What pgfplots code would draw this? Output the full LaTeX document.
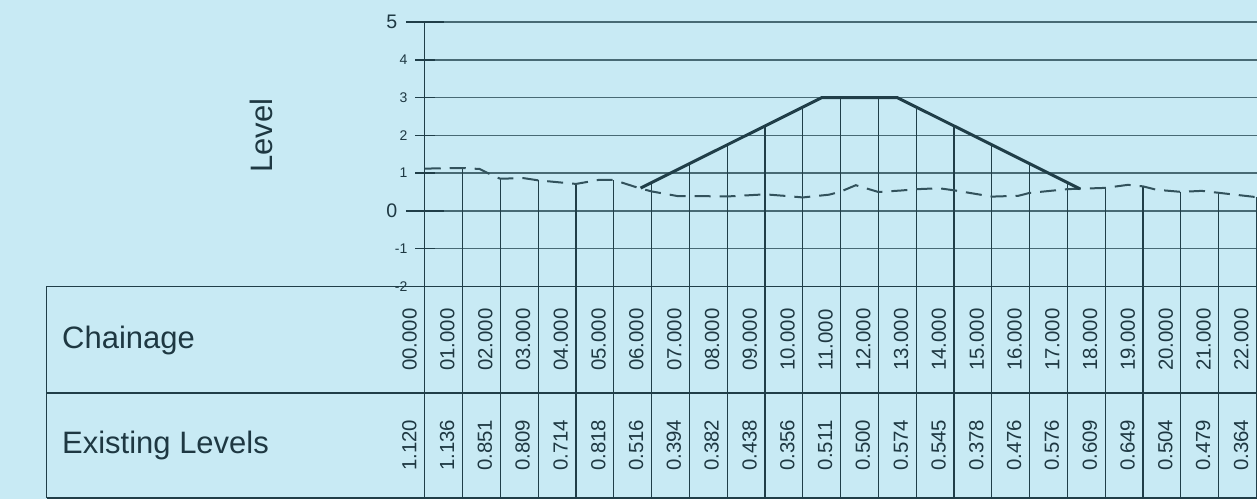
\documentclass[border=0pt]{standalone}
\usepackage{pgfplots}
\pgfplotsset{compat=1.18}
\usepackage{pgfplotstable}
\usepackage{fontspec}
\setmainfont{Liberation Sans}
\definecolor{bgc}{RGB}{200,234,244}
\definecolor{gridc}{RGB}{72,106,116}
\definecolor{linec}{RGB}{32,62,72}
\definecolor{groundc}{RGB}{50,82,92}
\definecolor{txtc}{RGB}{30,56,66}

\pgfplotstableread{
x ch lvl top v
0 00.000 1.120 5 -12.61
1 01.000 1.136 1.136 -8.746
2 02.000 0.851 0.851 -8.461
3 03.000 0.809 0.809 -8.419
4 04.000 0.714 0.714 -8.324
5 05.000 0.818 0.818 -8.428
6 06.000 0.516 0.75 -8.36
7 07.000 0.394 1.25 -8.86
8 08.000 0.382 1.75 -9.36
9 09.000 0.438 2.25 -9.86
10 10.000 0.356 2.75 -10.36
11 11.000 0.511 3 -10.61
12 12.000 0.500 3 -10.61
13 13.000 0.574 2.75 -10.36
14 14.000 0.545 2.25 -9.86
15 15.000 0.378 1.75 -9.36
16 16.000 0.476 1.25 -8.86
17 17.000 0.576 0.75 -8.36
18 18.000 0.609 0.609 -8.219
19 19.000 0.649 0.649 -8.259
20 20.000 0.504 0.504 -8.114
21 21.000 0.479 0.479 -8.089
22 22.000 0.364 0.364 -7.974
}\datatable

\pgfplotstableread{
x y
0 1.12
1 1.136
1.45 1.11
1.85 0.91
2 0.851
2.6 0.87
3 0.809
4 0.714
4.6 0.82
5 0.818
5.68 0.60
6 0.516
6.7 0.39
7 0.394
8 0.382
9 0.438
9.5 0.40
10 0.356
10.7 0.43
11 0.511
11.4 0.68
12 0.500
12.6 0.54
13 0.574
13.6 0.60
14 0.545
15 0.378
15.7 0.40
16 0.476
17 0.576
18 0.609
18.6 0.69
19 0.649
19.35 0.56
20 0.504
20.55 0.53
21 0.479
22 0.364
}\groundtable

\begin{document}
\begin{tikzpicture}
\begin{axis}[
  x=18.915pt, y=18.885pt,
  xmin=-11.235, xmax=22.02, ymin=-7.625, ymax=5.587,
  axis lines=none, clip=false,
]
\fill[bgc] (axis cs:-11.235,-7.625) rectangle (axis cs:22.02,5.587);
% horizontal grid lines
\pgfplotsinvokeforeach{5,4,3,2,1,0,-1}{
  \draw[gridc, line width=0.75pt] (axis cs:0,#1) -- (axis cs:22.02,#1);
}
% table lines
\draw[linec, line width=0.75pt] (axis cs:-10,-2) -- (axis cs:22.02,-2);
\draw[linec, line width=0.75pt] (axis cs:-10,-4.82) -- (axis cs:22.02,-4.82);
\draw[linec, line width=0.75pt] (axis cs:-10,-7.61) -- (axis cs:22.02,-7.61);
\draw[linec, line width=0.75pt] (axis cs:-10,-2) -- (axis cs:-10,-7.61);
% major ticks
\pgfplotsinvokeforeach{5,0}{
  \draw[linec, line width=0.75pt] (axis cs:-0.5,#1) -- (axis cs:0.5,#1);
  \node[anchor=east, inner sep=0pt, text=txtc, font=\fontsize{9.8}{11}\selectfont] at (axis cs:-0.714,#1) {#1};
}
% minor ticks
\pgfplotsinvokeforeach{4,3,2,1,-1,-2}{
  \draw[linec, line width=0.75pt] (axis cs:-0.25,#1) -- (axis cs:0.26,#1);
  \node[anchor=east, inner sep=0pt, text=txtc, font=\fontsize{7}{8}\selectfont] at (axis cs:-0.45,#1) {#1};
}
% vertical chainage lines
\addplot[linec, line width=0.6pt, mark=none, quiver={u=0, v=\thisrow{v}}] table[x=x, y=top] {\datatable};
% existing ground
\addplot[groundc, line width=1pt, dash pattern=on 8pt off 4.5pt, mark=none] table[x=x, y=y] {\groundtable};
% design
\addplot[linec, line width=1.5pt, mark=none] coordinates {(5.708,0.604) (10.5,3) (12.5,3) (17.33,0.585)};
% table labels
\addplot[draw=none, mark=none, nodes near coords, point meta=explicit symbolic,
  nodes near coords style={rotate=90, anchor=center, inner sep=0pt, text=txtc, font=\fontsize{10.2}{12}\selectfont}]
  table[x expr=\thisrow{x}-0.4, y expr=-3.415, meta=ch] {\datatable};
\addplot[draw=none, mark=none, nodes near coords, point meta=explicit symbolic,
  nodes near coords style={rotate=90, anchor=center, inner sep=0pt, text=txtc, font=\fontsize{10.2}{12}\selectfont}]
  table[x expr=\thisrow{x}-0.41, y expr=-6.21, meta=lvl] {\datatable};
% labels
\node[rotate=90, inner sep=0pt, text=txtc, font=\fontsize{15.5}{18}\selectfont] at (axis cs:-4.31,1.99) {Level};
\node[anchor=base west, inner sep=0pt, text=txtc, font=\fontsize{15.5}{18}\selectfont] at (axis cs:-9.6,-3.654) {Chainage};
\node[anchor=base west, inner sep=0pt, text=txtc, font=\fontsize{15.5}{18}\selectfont] at (axis cs:-9.6,-6.43) {Existing Levels};
\end{axis}
\end{tikzpicture}
\end{document}
